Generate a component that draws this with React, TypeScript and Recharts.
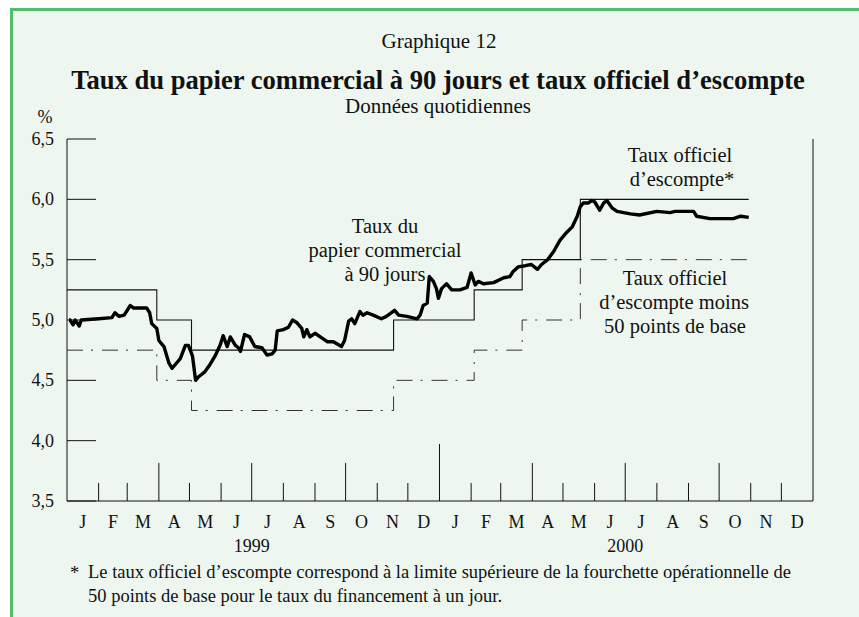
import React from 'react';
import { LineChart, Line, XAxis, YAxis } from 'recharts';

// plot frame in page pixels
const W = 859;
const H = 617;
const PLOT_LEFT = 67;
const PLOT_RIGHT = 813;
const PLOT_TOP = 139;
const PLOT_BOTTOM = 501;
const Y_AXIS_W = 40;
const X_AXIS_H = 40;
const END_DAY = 731;

const FONT = '"Liberation Serif", "DejaVu Serif", serif';

// days since 1 Jan 1999 at each month start (1999, then 2000)
const monthStarts = [
  0, 31, 59, 90, 120, 151, 181, 212, 243, 273, 304, 334,
  365, 396, 425, 456, 486, 517, 547, 578, 609, 639, 670, 700,
];
const monthLabels = ['J', 'F', 'M', 'A', 'M', 'J', 'J', 'A', 'S', 'O', 'N', 'D'];
const yearLabels = ['1999', '2000'];
const yTicks = [3.5, 4.0, 4.5, 5.0, 5.5, 6.0, 6.5];

// Taux du papier commercial à 90 jours
const cpDays = [
  2, 3, 6, 8, 12, 14, 31, 44, 47, 51, 56, 62, 65, 78, 81, 83, 88, 90, 95, 100,
  103, 108, 111, 116, 119, 123, 126, 129, 135, 140, 145, 150, 153, 157, 160, 165, 168, 170, 174, 179,
  184, 191, 196, 201, 204, 206, 212, 217, 221, 225, 230, 232, 235, 238, 243, 250, 255, 261, 269, 272,
  276, 279, 282, 287, 290, 294, 300, 308, 313, 321, 325, 333, 343, 346, 349, 353, 355, 359, 362, 364,
  367, 372, 377, 385, 392, 396, 400, 403, 408, 418, 428, 434, 437, 442, 449, 455, 461, 465, 471, 477,
  483, 490, 495, 500, 503, 506, 511, 514, 517, 522, 526, 529, 534, 539, 552, 561, 578, 591, 596, 614,
  617, 630, 643, 653, 660, 668,
];
const cpRates = [
  5.0, 5.0, 4.96, 5.0, 4.95, 5.0, 5.01, 5.02, 5.06, 5.03, 5.04, 5.12, 5.1, 5.1, 5.06, 4.97, 4.93, 4.83, 4.78, 4.64,
  4.6, 4.65, 4.68, 4.79, 4.79, 4.7, 4.5, 4.53, 4.57, 4.63, 4.7, 4.79, 4.87, 4.78, 4.86, 4.79, 4.77, 4.74, 4.88, 4.86,
  4.78, 4.77, 4.71, 4.72, 4.75, 4.91, 4.92, 4.94, 5.0, 4.98, 4.93, 4.86, 4.92, 4.86, 4.89, 4.85, 4.82, 4.82, 4.78, 4.83,
  4.99, 5.01, 4.97, 5.07, 5.04, 5.06, 5.04, 5.01, 5.03, 5.08, 5.04, 5.03, 5.01, 5.04, 5.12, 5.14, 5.36, 5.32, 5.26, 5.18,
  5.26, 5.3, 5.25, 5.25, 5.27, 5.39, 5.29, 5.32, 5.3, 5.31, 5.35, 5.36, 5.4, 5.44, 5.45, 5.46, 5.42, 5.46, 5.5, 5.57,
  5.66, 5.73, 5.77, 5.86, 5.94, 5.97, 5.97, 5.99, 5.98, 5.91, 5.97, 5.99, 5.93, 5.9, 5.88, 5.87, 5.9, 5.89, 5.9, 5.9,
  5.86, 5.84, 5.84, 5.84, 5.86, 5.85,
];

// Taux officiel d'escompte (step changes)
const bankDays = [0, 88, 122, 320, 399, 446, 503, 668];
const bankRates = [5.25, 5.0, 4.75, 5.0, 5.25, 5.5, 6.0, 6.0];
// Taux officiel d'escompte moins 50 points de base
const lowerRates = [4.75, 4.5, 4.25, 4.5, 4.75, 5.0, 5.5, 5.5];

const cpData = cpDays.map((d, i) => ({ d, v: cpRates[i] }));
const bankData = bankDays.map((d, i) => ({ d, v: bankRates[i] }));
const lowerData = bankDays.map((d, i) => ({ d, v: lowerRates[i] }));

const fmt = (v: number) => v.toFixed(1).replace('.', ',');

const MonthTick = (props: any) => {
  const { x, y, payload } = props;
  const day = payload.value;
  const i = monthStarts.indexOf(day);
  const next = i < monthStarts.length - 1 ? monthStarts[i + 1] : END_DAY;
  const pxPerDay = (PLOT_RIGHT - PLOT_LEFT) / END_DAY;
  const cx = x + ((next - day) * pxPerDay) / 2;
  const len = i === 0 ? 0 : i % 12 === 0 ? 57 : i % 3 === 0 ? 38 : 18;
  return (
    <g>
      {len > 0 && <line x1={x} x2={x} y1={y} y2={y - len} stroke="#111" strokeWidth={1} />}
      <text x={cx} y={y + 27} textAnchor="middle" fontSize={18} fontFamily={FONT} fill="#111">
        {monthLabels[i % 12]}
      </text>
      {i % 12 === 6 && (
        <text x={x} y={y + 51} textAnchor="middle" fontSize={18} fontFamily={FONT} fill="#111">
          {yearLabels[Math.floor(i / 12)]}
        </text>
      )}
    </g>
  );
};

const LeftTick = (props: any) => {
  const { x, y, payload } = props;
  return (
    <g>
      <line x1={x} x2={x + 29} y1={y} y2={y} stroke="#111" strokeWidth={1} />
      <text x={x - 13} y={y + 6} textAnchor="end" fontSize={18} fontFamily={FONT} fill="#111">
        {fmt(payload.value)}
      </text>
    </g>
  );
};

const RightTick = (props: any) => {
  const { x, y, payload } = props;
  return (
    <g>
      <line x1={x} x2={x - 29} y1={y} y2={y} stroke="#111" strokeWidth={1} />
      <text x={x + 13} y={y + 6} textAnchor="start" fontSize={18} fontFamily={FONT} fill="#111">
        {fmt(payload.value)}
      </text>
    </g>
  );
};

const App = () => {
  return (
    <div style={{ position: 'fixed', left: 0, top: 0, width: W, height: H, background: '#fff', overflow: 'hidden' }}>
      <div
        style={{
          position: 'absolute',
          left: 10,
          top: 8,
          width: 900,
          height: 700,
          border: '3px solid #52BE6B',
          background: '#EDF7F0',
        }}
      />
      <div style={{ position: 'absolute', left: 0, top: 0 }}>
        <LineChart
          width={W}
          height={H}
          margin={{
            top: PLOT_TOP,
            left: PLOT_LEFT - Y_AXIS_W,
            right: W - PLOT_RIGHT - Y_AXIS_W,
            bottom: H - PLOT_BOTTOM - X_AXIS_H,
          }}
        >
          <XAxis
            dataKey="d"
            type="number"
            domain={[0, END_DAY]}
            ticks={monthStarts}
            interval={0}
            tickSize={0}
            tickMargin={0}
            tickLine={false}
            tick={<MonthTick />}
            height={X_AXIS_H}
            axisLine={{ stroke: '#111' }}
            allowDataOverflow
          />
          <YAxis
            yAxisId="left"
            orientation="left"
            type="number"
            domain={[3.5, 6.5]}
            ticks={yTicks}
            interval={0}
            tickSize={0}
            tickMargin={0}
            tickLine={false}
            tick={<LeftTick />}
            width={Y_AXIS_W}
            axisLine={{ stroke: '#111' }}
          />
          <YAxis
            yAxisId="right"
            orientation="right"
            type="number"
            domain={[3.5, 6.5]}
            ticks={yTicks}
            interval={0}
            tickSize={0}
            tickMargin={0}
            tickLine={false}
            tick={<RightTick />}
            width={Y_AXIS_W}
            axisLine={{ stroke: '#111' }}
          />
          <Line
            yAxisId="left"
            data={lowerData}
            dataKey="v"
            type="stepAfter"
            stroke="#333"
            strokeWidth={1}
            strokeDasharray="16 8 2 9"
            dot={false}
            activeDot={false}
            isAnimationActive={false}
          />
          <Line
            yAxisId="left"
            data={bankData}
            dataKey="v"
            type="stepAfter"
            stroke="#111"
            strokeWidth={1.1}
            dot={false}
            activeDot={false}
            isAnimationActive={false}
          />
          <Line
            yAxisId="left"
            data={cpData}
            dataKey="v"
            type="linear"
            stroke="#000"
            strokeWidth={3.4}
            strokeLinejoin="round"
            dot={false}
            activeDot={false}
            isAnimationActive={false}
          />
        </LineChart>
      </div>
      <svg width={W} height={H} style={{ position: 'absolute', left: 0, top: 0, pointerEvents: 'none' }}>
        <g fontFamily={FONT} fill="#111">
          <text x={439} y={48} textAnchor="middle" fontSize={21}>Graphique 12</text>
          <text x={438} y={89} textAnchor="middle" fontSize={26.6} fontWeight="bold">
            Taux du papier commercial à 90 jours et taux officiel d’escompte
          </text>
          <text x={438} y={113} textAnchor="middle" fontSize={21}>Données quotidiennes</text>
          <text x={45} y={123} textAnchor="middle" fontSize={18}>%</text>

          <text x={385} y={233} textAnchor="middle" fontSize={20.5}>Taux du</text>
          <text x={385} y={257} textAnchor="middle" fontSize={20.5}>papier commercial</text>
          <text x={385} y={281} textAnchor="middle" fontSize={20.5}>à 90 jours</text>

          <text x={680} y={162} textAnchor="middle" fontSize={20.5}>Taux officiel</text>
          <text x={682} y={186} textAnchor="middle" fontSize={20.5}>d’escompte*</text>

          <text x={675} y={285} textAnchor="middle" fontSize={20.5}>Taux officiel</text>
          <text x={674} y={309} textAnchor="middle" fontSize={20.5}>d’escompte moins</text>
          <text x={675} y={333} textAnchor="middle" fontSize={20.5}>50 points de base</text>

          <text x={70} y={579} fontSize={18.5}>*</text>
          <text x={88} y={578} fontSize={18.5}>
            Le taux officiel d’escompte correspond à la limite supérieure de la fourchette opérationnelle de
          </text>
          <text x={88} y={602} fontSize={18.5}>50 points de base pour le taux du financement à un jour.</text>
        </g>
      </svg>
    </div>
  );
};

export default App;
